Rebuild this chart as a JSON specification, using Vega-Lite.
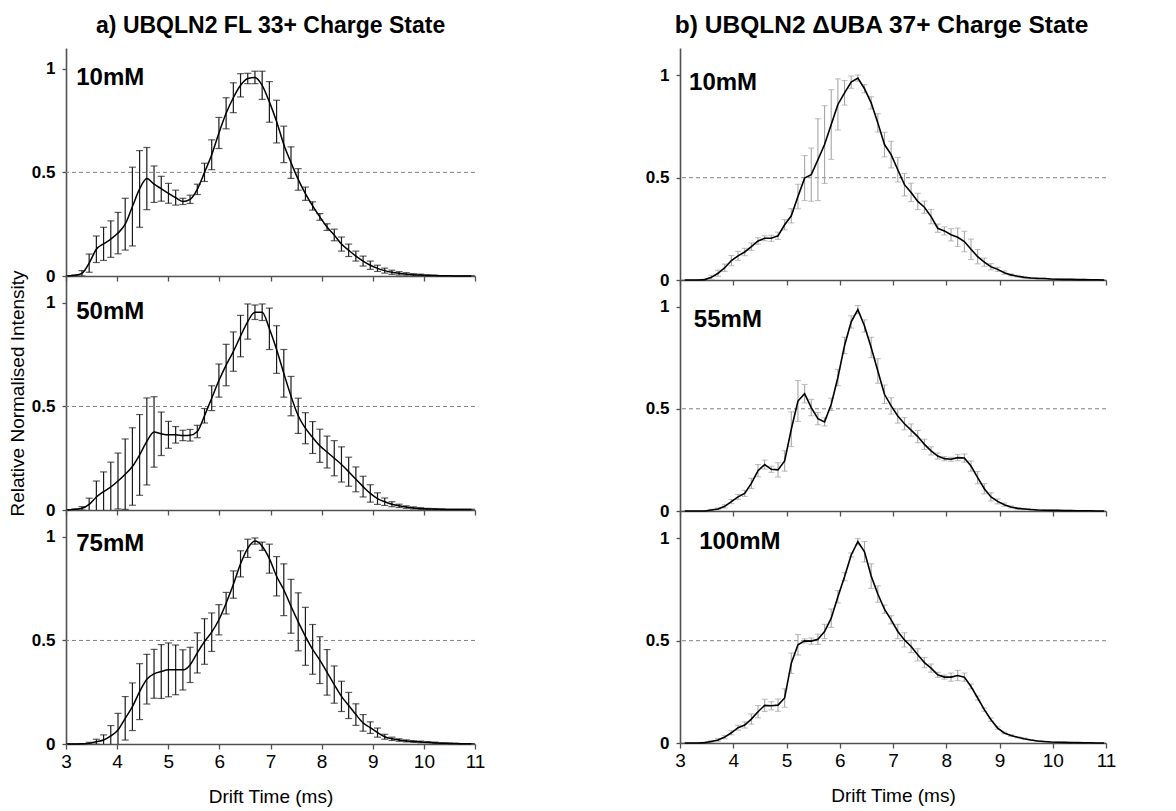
{
"$schema": "https://vega.github.io/schema/vega-lite/v6.json",
"background": "white",
"padding": {"left": 8, "top": 12, "right": 5, "bottom": 5},
"config": {
  "font": "Liberation Sans",
  "view": {"stroke": null},
  "axis": {"grid": false, "domainColor": "#505050", "tickColor": "#505050", "domainWidth": 1.6, "tickWidth": 1.3, "labelColor": "#000", "titleColor": "#000", "labelFont": "Liberation Sans", "titleFont": "Liberation Sans"},
  "title": {"font": "Liberation Sans", "color": "#000"}
},
"datasets": {
"fl": [
{"conc":"10mM","time":3.03,"rel":0,"err":0},{"conc":"10mM","time":3.171,"rel":0.003,"err":0.002},{"conc":"10mM","time":3.312,"rel":0.013,"err":0.013},{"conc":"10mM","time":3.453,"rel":0.062,"err":0.044},{"conc":"10mM","time":3.594,"rel":0.129,"err":0.064},{"conc":"10mM","time":3.735,"rel":0.155,"err":0.08},{"conc":"10mM","time":3.876,"rel":0.178,"err":0.088},{"conc":"10mM","time":4.017,"rel":0.207,"err":0.1},{"conc":"10mM","time":4.158,"rel":0.25,"err":0.125},{"conc":"10mM","time":4.299,"rel":0.335,"err":0.19},{"conc":"10mM","time":4.44,"rel":0.42,"err":0.185},{"conc":"10mM","time":4.581,"rel":0.47,"err":0.15},{"conc":"10mM","time":4.722,"rel":0.443,"err":0.088},{"conc":"10mM","time":4.863,"rel":0.421,"err":0.06},{"conc":"10mM","time":5.004,"rel":0.399,"err":0.048},{"conc":"10mM","time":5.145,"rel":0.378,"err":0.036},{"conc":"10mM","time":5.286,"rel":0.36,"err":0.015},{"conc":"10mM","time":5.427,"rel":0.37,"err":0.02},{"conc":"10mM","time":5.568,"rel":0.418,"err":0.025},{"conc":"10mM","time":5.709,"rel":0.5,"err":0.044},{"conc":"10mM","time":5.85,"rel":0.585,"err":0.072},{"conc":"10mM","time":5.991,"rel":0.69,"err":0.075},{"conc":"10mM","time":6.132,"rel":0.785,"err":0.075},{"conc":"10mM","time":6.273,"rel":0.86,"err":0.072},{"conc":"10mM","time":6.414,"rel":0.92,"err":0.056},{"conc":"10mM","time":6.555,"rel":0.953,"err":0.025},{"conc":"10mM","time":6.696,"rel":0.958,"err":0.03},{"conc":"10mM","time":6.837,"rel":0.92,"err":0.068},{"conc":"10mM","time":6.978,"rel":0.84,"err":0.098},{"conc":"10mM","time":7.119,"rel":0.745,"err":0.103},{"conc":"10mM","time":7.26,"rel":0.635,"err":0.088},{"conc":"10mM","time":7.401,"rel":0.547,"err":0.076},{"conc":"10mM","time":7.542,"rel":0.466,"err":0.052},{"conc":"10mM","time":7.683,"rel":0.397,"err":0.032},{"conc":"10mM","time":7.824,"rel":0.338,"err":0.02},{"conc":"10mM","time":7.965,"rel":0.285,"err":0.016},{"conc":"10mM","time":8.106,"rel":0.236,"err":0.016},{"conc":"10mM","time":8.247,"rel":0.198,"err":0.028},{"conc":"10mM","time":8.388,"rel":0.154,"err":0.034},{"conc":"10mM","time":8.529,"rel":0.124,"err":0.03},{"conc":"10mM","time":8.67,"rel":0.096,"err":0.024},{"conc":"10mM","time":8.811,"rel":0.072,"err":0.024},{"conc":"10mM","time":8.952,"rel":0.052,"err":0.02},{"conc":"10mM","time":9.093,"rel":0.037,"err":0.015},{"conc":"10mM","time":9.234,"rel":0.026,"err":0.012},{"conc":"10mM","time":9.375,"rel":0.018,"err":0.01},{"conc":"10mM","time":9.516,"rel":0.013,"err":0.008},{"conc":"10mM","time":9.657,"rel":0.01,"err":0.006},{"conc":"10mM","time":9.798,"rel":0.006,"err":0.005},{"conc":"10mM","time":9.939,"rel":0.005,"err":0.004},{"conc":"10mM","time":10.08,"rel":0.003,"err":0.003},{"conc":"10mM","time":10.221,"rel":0.002,"err":0.002},{"conc":"10mM","time":10.362,"rel":0.001,"err":0.001},{"conc":"10mM","time":10.503,"rel":0.001,"err":0.001},{"conc":"10mM","time":10.644,"rel":0,"err":0},{"conc":"10mM","time":10.785,"rel":0,"err":0},{"conc":"10mM","time":10.926,"rel":0,"err":0},
{"conc":"50mM","time":3.03,"rel":0,"err":0},{"conc":"50mM","time":3.171,"rel":0.003,"err":0.003},{"conc":"50mM","time":3.312,"rel":0.008,"err":0.008},{"conc":"50mM","time":3.453,"rel":0.027,"err":0.03},{"conc":"50mM","time":3.594,"rel":0.063,"err":0.077},{"conc":"50mM","time":3.735,"rel":0.089,"err":0.095},{"conc":"50mM","time":3.876,"rel":0.111,"err":0.12},{"conc":"50mM","time":4.017,"rel":0.14,"err":0.135},{"conc":"50mM","time":4.158,"rel":0.173,"err":0.17},{"conc":"50mM","time":4.299,"rel":0.21,"err":0.187},{"conc":"50mM","time":4.44,"rel":0.266,"err":0.195},{"conc":"50mM","time":4.581,"rel":0.331,"err":0.21},{"conc":"50mM","time":4.722,"rel":0.377,"err":0.17},{"conc":"50mM","time":4.863,"rel":0.368,"err":0.105},{"conc":"50mM","time":5.004,"rel":0.363,"err":0.065},{"conc":"50mM","time":5.145,"rel":0.363,"err":0.04},{"conc":"50mM","time":5.286,"rel":0.36,"err":0.025},{"conc":"50mM","time":5.427,"rel":0.361,"err":0.028},{"conc":"50mM","time":5.568,"rel":0.379,"err":0.03},{"conc":"50mM","time":5.709,"rel":0.455,"err":0.035},{"conc":"50mM","time":5.85,"rel":0.54,"err":0.06},{"conc":"50mM","time":5.991,"rel":0.625,"err":0.08},{"conc":"50mM","time":6.132,"rel":0.7,"err":0.1},{"conc":"50mM","time":6.273,"rel":0.765,"err":0.095},{"conc":"50mM","time":6.414,"rel":0.84,"err":0.1},{"conc":"50mM","time":6.555,"rel":0.91,"err":0.085},{"conc":"50mM","time":6.696,"rel":0.955,"err":0.035},{"conc":"50mM","time":6.837,"rel":0.955,"err":0.04},{"conc":"50mM","time":6.978,"rel":0.875,"err":0.1},{"conc":"50mM","time":7.119,"rel":0.775,"err":0.115},{"conc":"50mM","time":7.26,"rel":0.66,"err":0.115},{"conc":"50mM","time":7.401,"rel":0.55,"err":0.095},{"conc":"50mM","time":7.542,"rel":0.455,"err":0.085},{"conc":"50mM","time":7.683,"rel":0.395,"err":0.075},{"conc":"50mM","time":7.824,"rel":0.35,"err":0.077},{"conc":"50mM","time":7.965,"rel":0.31,"err":0.08},{"conc":"50mM","time":8.106,"rel":0.28,"err":0.077},{"conc":"50mM","time":8.247,"rel":0.25,"err":0.085},{"conc":"50mM","time":8.388,"rel":0.22,"err":0.085},{"conc":"50mM","time":8.529,"rel":0.185,"err":0.07},{"conc":"50mM","time":8.67,"rel":0.148,"err":0.06},{"conc":"50mM","time":8.811,"rel":0.113,"err":0.05},{"conc":"50mM","time":8.952,"rel":0.08,"err":0.042},{"conc":"50mM","time":9.093,"rel":0.055,"err":0.028},{"conc":"50mM","time":9.234,"rel":0.04,"err":0.018},{"conc":"50mM","time":9.375,"rel":0.028,"err":0.012},{"conc":"50mM","time":9.516,"rel":0.02,"err":0.008},{"conc":"50mM","time":9.657,"rel":0.014,"err":0.006},{"conc":"50mM","time":9.798,"rel":0.01,"err":0.005},{"conc":"50mM","time":9.939,"rel":0.007,"err":0.004},{"conc":"50mM","time":10.08,"rel":0.005,"err":0.003},{"conc":"50mM","time":10.221,"rel":0.004,"err":0.003},{"conc":"50mM","time":10.362,"rel":0.003,"err":0.003},{"conc":"50mM","time":10.503,"rel":0.002,"err":0.002},{"conc":"50mM","time":10.644,"rel":0.002,"err":0.002},{"conc":"50mM","time":10.785,"rel":0.002,"err":0.002},{"conc":"50mM","time":10.926,"rel":0.002,"err":0.002},
{"conc":"75mM","time":3.03,"rel":0,"err":0},{"conc":"75mM","time":3.171,"rel":0,"err":0},{"conc":"75mM","time":3.312,"rel":0.001,"err":0.001},{"conc":"75mM","time":3.453,"rel":0.003,"err":0.005},{"conc":"75mM","time":3.594,"rel":0.011,"err":0.012},{"conc":"75mM","time":3.735,"rel":0.019,"err":0.025},{"conc":"75mM","time":3.876,"rel":0.039,"err":0.05},{"conc":"75mM","time":4.017,"rel":0.068,"err":0.08},{"conc":"75mM","time":4.158,"rel":0.124,"err":0.105},{"conc":"75mM","time":4.299,"rel":0.18,"err":0.115},{"conc":"75mM","time":4.44,"rel":0.253,"err":0.135},{"conc":"75mM","time":4.581,"rel":0.313,"err":0.12},{"conc":"75mM","time":4.722,"rel":0.339,"err":0.118},{"conc":"75mM","time":4.863,"rel":0.35,"err":0.13},{"conc":"75mM","time":5.004,"rel":0.358,"err":0.13},{"conc":"75mM","time":5.145,"rel":0.358,"err":0.12},{"conc":"75mM","time":5.286,"rel":0.358,"err":0.097},{"conc":"75mM","time":5.427,"rel":0.382,"err":0.085},{"conc":"75mM","time":5.568,"rel":0.44,"err":0.097},{"conc":"75mM","time":5.709,"rel":0.495,"err":0.11},{"conc":"75mM","time":5.85,"rel":0.54,"err":0.093},{"conc":"75mM","time":5.991,"rel":0.6,"err":0.073},{"conc":"75mM","time":6.132,"rel":0.68,"err":0.052},{"conc":"75mM","time":6.273,"rel":0.77,"err":0.066},{"conc":"75mM","time":6.414,"rel":0.87,"err":0.063},{"conc":"75mM","time":6.555,"rel":0.945,"err":0.044},{"conc":"75mM","time":6.696,"rel":0.98,"err":0.015},{"conc":"75mM","time":6.837,"rel":0.955,"err":0.02},{"conc":"75mM","time":6.978,"rel":0.895,"err":0.07},{"conc":"75mM","time":7.119,"rel":0.81,"err":0.095},{"conc":"75mM","time":7.26,"rel":0.745,"err":0.125},{"conc":"75mM","time":7.401,"rel":0.665,"err":0.13},{"conc":"75mM","time":7.542,"rel":0.59,"err":0.14},{"conc":"75mM","time":7.683,"rel":0.52,"err":0.14},{"conc":"75mM","time":7.824,"rel":0.457,"err":0.12},{"conc":"75mM","time":7.965,"rel":0.405,"err":0.113},{"conc":"75mM","time":8.106,"rel":0.346,"err":0.11},{"conc":"75mM","time":8.247,"rel":0.287,"err":0.09},{"conc":"75mM","time":8.388,"rel":0.23,"err":0.073},{"conc":"75mM","time":8.529,"rel":0.186,"err":0.063},{"conc":"75mM","time":8.67,"rel":0.142,"err":0.052},{"conc":"75mM","time":8.811,"rel":0.102,"err":0.04},{"conc":"75mM","time":8.952,"rel":0.079,"err":0.028},{"conc":"75mM","time":9.093,"rel":0.055,"err":0.022},{"conc":"75mM","time":9.234,"rel":0.035,"err":0.012},{"conc":"75mM","time":9.375,"rel":0.025,"err":0.008},{"conc":"75mM","time":9.516,"rel":0.019,"err":0.006},{"conc":"75mM","time":9.657,"rel":0.015,"err":0.005},{"conc":"75mM","time":9.798,"rel":0.012,"err":0.004},{"conc":"75mM","time":9.939,"rel":0.01,"err":0.004},{"conc":"75mM","time":10.08,"rel":0.008,"err":0.003},{"conc":"75mM","time":10.221,"rel":0.006,"err":0.003},{"conc":"75mM","time":10.362,"rel":0.004,"err":0.002},{"conc":"75mM","time":10.503,"rel":0.003,"err":0.002},{"conc":"75mM","time":10.644,"rel":0.002,"err":0.001},{"conc":"75mM","time":10.785,"rel":0.001,"err":0.001},{"conc":"75mM","time":10.926,"rel":0.001,"err":0.001}
],
"duba": [
{"conc":"10mM","time":3.09,"rel":0,"err":0},{"conc":"10mM","time":3.215,"rel":0,"err":0},{"conc":"10mM","time":3.34,"rel":0,"err":0},{"conc":"10mM","time":3.465,"rel":0.002,"err":0.002},{"conc":"10mM","time":3.59,"rel":0.013,"err":0.01},{"conc":"10mM","time":3.715,"rel":0.033,"err":0.015},{"conc":"10mM","time":3.84,"rel":0.06,"err":0.018},{"conc":"10mM","time":3.965,"rel":0.095,"err":0.025},{"conc":"10mM","time":4.09,"rel":0.118,"err":0.022},{"conc":"10mM","time":4.215,"rel":0.137,"err":0.018},{"conc":"10mM","time":4.34,"rel":0.163,"err":0.018},{"conc":"10mM","time":4.465,"rel":0.191,"err":0.016},{"conc":"10mM","time":4.59,"rel":0.204,"err":0.012},{"conc":"10mM","time":4.715,"rel":0.204,"err":0.015},{"conc":"10mM","time":4.84,"rel":0.216,"err":0.018},{"conc":"10mM","time":4.965,"rel":0.27,"err":0.025},{"conc":"10mM","time":5.09,"rel":0.314,"err":0.035},{"conc":"10mM","time":5.215,"rel":0.408,"err":0.06},{"conc":"10mM","time":5.34,"rel":0.498,"err":0.11},{"conc":"10mM","time":5.465,"rel":0.515,"err":0.13},{"conc":"10mM","time":5.59,"rel":0.588,"err":0.2},{"conc":"10mM","time":5.715,"rel":0.662,"err":0.19},{"conc":"10mM","time":5.84,"rel":0.76,"err":0.17},{"conc":"10mM","time":5.965,"rel":0.858,"err":0.125},{"conc":"10mM","time":6.09,"rel":0.915,"err":0.06},{"conc":"10mM","time":6.215,"rel":0.967,"err":0.03},{"conc":"10mM","time":6.34,"rel":0.987,"err":0.015},{"conc":"10mM","time":6.465,"rel":0.935,"err":0.02},{"conc":"10mM","time":6.59,"rel":0.866,"err":0.03},{"conc":"10mM","time":6.715,"rel":0.768,"err":0.045},{"conc":"10mM","time":6.84,"rel":0.662,"err":0.06},{"conc":"10mM","time":6.965,"rel":0.613,"err":0.065},{"conc":"10mM","time":7.09,"rel":0.539,"err":0.06},{"conc":"10mM","time":7.215,"rel":0.466,"err":0.055},{"conc":"10mM","time":7.34,"rel":0.428,"err":0.045},{"conc":"10mM","time":7.465,"rel":0.384,"err":0.04},{"conc":"10mM","time":7.59,"rel":0.356,"err":0.03},{"conc":"10mM","time":7.715,"rel":0.31,"err":0.035},{"conc":"10mM","time":7.84,"rel":0.253,"err":0.02},{"conc":"10mM","time":7.965,"rel":0.24,"err":0.02},{"conc":"10mM","time":8.09,"rel":0.221,"err":0.03},{"conc":"10mM","time":8.215,"rel":0.209,"err":0.045},{"conc":"10mM","time":8.34,"rel":0.188,"err":0.05},{"conc":"10mM","time":8.465,"rel":0.15,"err":0.05},{"conc":"10mM","time":8.59,"rel":0.114,"err":0.035},{"conc":"10mM","time":8.715,"rel":0.087,"err":0.02},{"conc":"10mM","time":8.84,"rel":0.065,"err":0.015},{"conc":"10mM","time":8.965,"rel":0.052,"err":0.01},{"conc":"10mM","time":9.09,"rel":0.036,"err":0.008},{"conc":"10mM","time":9.215,"rel":0.025,"err":0.005},{"conc":"10mM","time":9.34,"rel":0.018,"err":0.004},{"conc":"10mM","time":9.465,"rel":0.013,"err":0.003},{"conc":"10mM","time":9.59,"rel":0.01,"err":0.003},{"conc":"10mM","time":9.715,"rel":0.008,"err":0.002},{"conc":"10mM","time":9.84,"rel":0.007,"err":0.002},{"conc":"10mM","time":9.965,"rel":0.005,"err":0.002},{"conc":"10mM","time":10.09,"rel":0.004,"err":0.001},{"conc":"10mM","time":10.215,"rel":0.003,"err":0.001},{"conc":"10mM","time":10.34,"rel":0.003,"err":0.001},{"conc":"10mM","time":10.465,"rel":0.002,"err":0.001},{"conc":"10mM","time":10.59,"rel":0.002,"err":0.001},{"conc":"10mM","time":10.715,"rel":0.001,"err":0},{"conc":"10mM","time":10.84,"rel":0.001,"err":0},{"conc":"10mM","time":10.965,"rel":0,"err":0},
{"conc":"55mM","time":3.09,"rel":0,"err":0},{"conc":"55mM","time":3.215,"rel":0,"err":0},{"conc":"55mM","time":3.34,"rel":0,"err":0},{"conc":"55mM","time":3.465,"rel":0,"err":0},{"conc":"55mM","time":3.59,"rel":0.005,"err":0.003},{"conc":"55mM","time":3.715,"rel":0.01,"err":0.005},{"conc":"55mM","time":3.84,"rel":0.023,"err":0.008},{"conc":"55mM","time":3.965,"rel":0.046,"err":0.01},{"conc":"55mM","time":4.09,"rel":0.069,"err":0.012},{"conc":"55mM","time":4.215,"rel":0.086,"err":0.015},{"conc":"55mM","time":4.34,"rel":0.135,"err":0.025},{"conc":"55mM","time":4.465,"rel":0.197,"err":0.03},{"conc":"55mM","time":4.59,"rel":0.227,"err":0.022},{"conc":"55mM","time":4.715,"rel":0.204,"err":0.015},{"conc":"55mM","time":4.84,"rel":0.201,"err":0.035},{"conc":"55mM","time":4.965,"rel":0.245,"err":0.05},{"conc":"55mM","time":5.09,"rel":0.4,"err":0.085},{"conc":"55mM","time":5.215,"rel":0.538,"err":0.1},{"conc":"55mM","time":5.34,"rel":0.574,"err":0.045},{"conc":"55mM","time":5.465,"rel":0.506,"err":0.04},{"conc":"55mM","time":5.59,"rel":0.452,"err":0.03},{"conc":"55mM","time":5.715,"rel":0.436,"err":0.02},{"conc":"55mM","time":5.84,"rel":0.522,"err":0.03},{"conc":"55mM","time":5.965,"rel":0.653,"err":0.04},{"conc":"55mM","time":6.09,"rel":0.81,"err":0.04},{"conc":"55mM","time":6.215,"rel":0.925,"err":0.03},{"conc":"55mM","time":6.34,"rel":0.985,"err":0.02},{"conc":"55mM","time":6.465,"rel":0.905,"err":0.03},{"conc":"55mM","time":6.59,"rel":0.8,"err":0.05},{"conc":"55mM","time":6.715,"rel":0.685,"err":0.06},{"conc":"55mM","time":6.84,"rel":0.571,"err":0.045},{"conc":"55mM","time":6.965,"rel":0.514,"err":0.04},{"conc":"55mM","time":7.09,"rel":0.465,"err":0.035},{"conc":"55mM","time":7.215,"rel":0.427,"err":0.03},{"conc":"55mM","time":7.34,"rel":0.396,"err":0.03},{"conc":"55mM","time":7.465,"rel":0.364,"err":0.03},{"conc":"55mM","time":7.59,"rel":0.326,"err":0.025},{"conc":"55mM","time":7.715,"rel":0.294,"err":0.02},{"conc":"55mM","time":7.84,"rel":0.269,"err":0.015},{"conc":"55mM","time":7.965,"rel":0.256,"err":0.01},{"conc":"55mM","time":8.09,"rel":0.253,"err":0.01},{"conc":"55mM","time":8.215,"rel":0.261,"err":0.015},{"conc":"55mM","time":8.34,"rel":0.259,"err":0.02},{"conc":"55mM","time":8.465,"rel":0.22,"err":0.025},{"conc":"55mM","time":8.59,"rel":0.163,"err":0.03},{"conc":"55mM","time":8.715,"rel":0.109,"err":0.025},{"conc":"55mM","time":8.84,"rel":0.069,"err":0.02},{"conc":"55mM","time":8.965,"rel":0.047,"err":0.012},{"conc":"55mM","time":9.09,"rel":0.031,"err":0.008},{"conc":"55mM","time":9.215,"rel":0.02,"err":0.005},{"conc":"55mM","time":9.34,"rel":0.013,"err":0.004},{"conc":"55mM","time":9.465,"rel":0.01,"err":0.003},{"conc":"55mM","time":9.59,"rel":0.007,"err":0.003},{"conc":"55mM","time":9.715,"rel":0.005,"err":0.002},{"conc":"55mM","time":9.84,"rel":0.004,"err":0.002},{"conc":"55mM","time":9.965,"rel":0.003,"err":0.002},{"conc":"55mM","time":10.09,"rel":0.003,"err":0.001},{"conc":"55mM","time":10.215,"rel":0.002,"err":0.001},{"conc":"55mM","time":10.34,"rel":0.002,"err":0.001},{"conc":"55mM","time":10.465,"rel":0.001,"err":0.001},{"conc":"55mM","time":10.59,"rel":0.001,"err":0.001},{"conc":"55mM","time":10.715,"rel":0.001,"err":0},{"conc":"55mM","time":10.84,"rel":0,"err":0},{"conc":"55mM","time":10.965,"rel":0,"err":0},
{"conc":"100mM","time":3.09,"rel":0,"err":0},{"conc":"100mM","time":3.215,"rel":0,"err":0},{"conc":"100mM","time":3.34,"rel":0,"err":0},{"conc":"100mM","time":3.465,"rel":0.002,"err":0.002},{"conc":"100mM","time":3.59,"rel":0.007,"err":0.005},{"conc":"100mM","time":3.715,"rel":0.015,"err":0.007},{"conc":"100mM","time":3.84,"rel":0.029,"err":0.008},{"conc":"100mM","time":3.965,"rel":0.05,"err":0.01},{"conc":"100mM","time":4.09,"rel":0.075,"err":0.012},{"conc":"100mM","time":4.215,"rel":0.088,"err":0.015},{"conc":"100mM","time":4.34,"rel":0.117,"err":0.025},{"conc":"100mM","time":4.465,"rel":0.153,"err":0.03},{"conc":"100mM","time":4.59,"rel":0.184,"err":0.03},{"conc":"100mM","time":4.715,"rel":0.182,"err":0.02},{"conc":"100mM","time":4.84,"rel":0.185,"err":0.03},{"conc":"100mM","time":4.965,"rel":0.22,"err":0.045},{"conc":"100mM","time":5.09,"rel":0.39,"err":0.05},{"conc":"100mM","time":5.215,"rel":0.48,"err":0.05},{"conc":"100mM","time":5.34,"rel":0.499,"err":0.01},{"conc":"100mM","time":5.465,"rel":0.498,"err":0.015},{"conc":"100mM","time":5.59,"rel":0.507,"err":0.025},{"conc":"100mM","time":5.715,"rel":0.545,"err":0.035},{"conc":"100mM","time":5.84,"rel":0.61,"err":0.045},{"conc":"100mM","time":5.965,"rel":0.715,"err":0.03},{"conc":"100mM","time":6.09,"rel":0.813,"err":0.02},{"conc":"100mM","time":6.215,"rel":0.919,"err":0.01},{"conc":"100mM","time":6.34,"rel":0.984,"err":0.015},{"conc":"100mM","time":6.465,"rel":0.935,"err":0.05},{"conc":"100mM","time":6.59,"rel":0.816,"err":0.06},{"conc":"100mM","time":6.715,"rel":0.728,"err":0.04},{"conc":"100mM","time":6.84,"rel":0.654,"err":0.02},{"conc":"100mM","time":6.965,"rel":0.602,"err":0.02},{"conc":"100mM","time":7.09,"rel":0.545,"err":0.035},{"conc":"100mM","time":7.215,"rel":0.504,"err":0.035},{"conc":"100mM","time":7.34,"rel":0.472,"err":0.03},{"conc":"100mM","time":7.465,"rel":0.431,"err":0.03},{"conc":"100mM","time":7.59,"rel":0.393,"err":0.025},{"conc":"100mM","time":7.715,"rel":0.366,"err":0.02},{"conc":"100mM","time":7.84,"rel":0.333,"err":0.012},{"conc":"100mM","time":7.965,"rel":0.322,"err":0.01},{"conc":"100mM","time":8.09,"rel":0.322,"err":0.02},{"conc":"100mM","time":8.215,"rel":0.33,"err":0.025},{"conc":"100mM","time":8.34,"rel":0.322,"err":0.02},{"conc":"100mM","time":8.465,"rel":0.276,"err":0.012},{"conc":"100mM","time":8.59,"rel":0.22,"err":0.01},{"conc":"100mM","time":8.715,"rel":0.163,"err":0.008},{"conc":"100mM","time":8.84,"rel":0.114,"err":0.008},{"conc":"100mM","time":8.965,"rel":0.073,"err":0.006},{"conc":"100mM","time":9.09,"rel":0.049,"err":0.004},{"conc":"100mM","time":9.215,"rel":0.037,"err":0.004},{"conc":"100mM","time":9.34,"rel":0.028,"err":0.003},{"conc":"100mM","time":9.465,"rel":0.021,"err":0.003},{"conc":"100mM","time":9.59,"rel":0.015,"err":0.002},{"conc":"100mM","time":9.715,"rel":0.01,"err":0.002},{"conc":"100mM","time":9.84,"rel":0.007,"err":0.002},{"conc":"100mM","time":9.965,"rel":0.005,"err":0.001},{"conc":"100mM","time":10.09,"rel":0.004,"err":0.001},{"conc":"100mM","time":10.215,"rel":0.003,"err":0.001},{"conc":"100mM","time":10.34,"rel":0.002,"err":0.001},{"conc":"100mM","time":10.465,"rel":0.002,"err":0},{"conc":"100mM","time":10.59,"rel":0.001,"err":0},{"conc":"100mM","time":10.715,"rel":0.001,"err":0},{"conc":"100mM","time":10.84,"rel":0,"err":0},{"conc":"100mM","time":10.965,"rel":0,"err":0}
]
},
"spacing": 160,
"resolve": {"scale": {"x": "independent", "y": "independent"}},
"hconcat": [
{
"title": {"text": "a) UBQLN2 FL 33+ Charge State", "fontSize": 23, "fontWeight": "bold", "anchor": "middle", "offset": 10, "dx": 24},
"spacing": 0,
"bounds": "flush",
"resolve": {"scale": {"x": "independent", "y": "independent"}},
"vconcat": [
{"width": 409, "height": 228, "layer": [
 {"data": {"values": [{}]}, "mark": {"type": "rule", "color": "#808080", "strokeDash": [4, 3], "strokeWidth": 1}, "encoding": {"y": {"datum": 0.5, "type": "quantitative", "scale": {"domain": [0, 1.1], "nice": false, "zero": false}}}},
 {"data": {"name": "fl"}, "transform": [{"filter": "datum.conc === '10mM'"}], "mark": {"type": "errorbar", "ticks": {"size": 7}, "color": "#1a1a1a", "thickness": 1.2, "clip": true}, "encoding": {"x": {"field": "time", "type": "quantitative", "scale": {"domain": [3, 11], "nice": false, "zero": false}}, "y": {"field": "rel", "type": "quantitative", "scale": {"domain": [0, 1.1], "nice": false, "zero": false}}, "yError": {"field": "err"}}},
 {"data": {"name": "fl"}, "transform": [{"filter": "datum.conc === '10mM'"}], "mark": {"type": "line", "color": "#000", "strokeWidth": 1.5, "interpolate": "monotone"}, "encoding": {"x": {"field": "time", "type": "quantitative", "scale": {"domain": [3, 11], "nice": false, "zero": false}, "axis": {"values": [3,3.5,4,4.5,5,5.5,6,6.5,7,7.5,8,8.5,9,9.5,10,10.5,11], "labels": false, "tickSize": 5, "title": null}}, "y": {"field": "rel", "type": "quantitative", "scale": {"domain": [0, 1.1], "nice": false, "zero": false}, "axis": {"values": [0, 0.5, 1], "format": "~g", "labelFontSize": 17, "labelFontWeight": "bold", "tickSize": 4, "labelPadding": 7, "title": null}}}},
 {"data": {"values": [{}]}, "mark": {"type": "text", "text": "10mM", "fontSize": 24, "fontWeight": "bold", "align": "left", "baseline": "alphabetic"}, "encoding": {"x": {"datum": 3.2, "type": "quantitative", "scale": {"domain": [3, 11], "nice": false, "zero": false}}, "y": {"datum": 0.92, "type": "quantitative", "scale": {"domain": [0, 1.1], "nice": false, "zero": false}}}}
]},
{"width": 409, "height": 234, "layer": [
 {"data": {"values": [{}]}, "mark": {"type": "rule", "color": "#808080", "strokeDash": [4, 3], "strokeWidth": 1}, "encoding": {"y": {"datum": 0.5, "type": "quantitative", "scale": {"domain": [0, 1.13], "nice": false, "zero": false}}}},
 {"data": {"name": "fl"}, "transform": [{"filter": "datum.conc === '50mM'"}], "mark": {"type": "errorbar", "ticks": {"size": 7}, "color": "#1a1a1a", "thickness": 1.2, "clip": true}, "encoding": {"x": {"field": "time", "type": "quantitative", "scale": {"domain": [3, 11], "nice": false, "zero": false}}, "y": {"field": "rel", "type": "quantitative", "title": "Relative Normalised Intensity", "scale": {"domain": [0, 1.13], "nice": false, "zero": false}}, "yError": {"field": "err"}}},
 {"data": {"name": "fl"}, "transform": [{"filter": "datum.conc === '50mM'"}], "mark": {"type": "line", "color": "#000", "strokeWidth": 1.5, "interpolate": "monotone"}, "encoding": {"x": {"field": "time", "type": "quantitative", "scale": {"domain": [3, 11], "nice": false, "zero": false}, "axis": {"values": [3,3.5,4,4.5,5,5.5,6,6.5,7,7.5,8,8.5,9,9.5,10,10.5,11], "labels": false, "tickSize": 5, "title": null}}, "y": {"field": "rel", "type": "quantitative", "title": "Relative Normalised Intensity", "scale": {"domain": [0, 1.13], "nice": false, "zero": false}, "axis": {"values": [0, 0.5, 1], "format": "~g", "labelFontSize": 17, "labelFontWeight": "bold", "tickSize": 4, "labelPadding": 7, "titleFontSize": 19, "titleFontWeight": "normal", "titlePadding": 4}}}},
 {"data": {"values": [{}]}, "mark": {"type": "text", "text": "50mM", "fontSize": 24, "fontWeight": "bold", "align": "left", "baseline": "alphabetic"}, "encoding": {"x": {"datum": 3.2, "type": "quantitative", "scale": {"domain": [3, 11], "nice": false, "zero": false}}, "y": {"datum": 0.92, "type": "quantitative", "scale": {"domain": [0, 1.13], "nice": false, "zero": false}}}}
]},
{"width": 409, "height": 234, "layer": [
 {"data": {"values": [{}]}, "mark": {"type": "rule", "color": "#808080", "strokeDash": [4, 3], "strokeWidth": 1}, "encoding": {"y": {"datum": 0.5, "type": "quantitative", "scale": {"domain": [0, 1.13], "nice": false, "zero": false}}}},
 {"data": {"name": "fl"}, "transform": [{"filter": "datum.conc === '75mM'"}], "mark": {"type": "errorbar", "ticks": {"size": 7}, "color": "#1a1a1a", "thickness": 1.2, "clip": true}, "encoding": {"x": {"field": "time", "type": "quantitative", "scale": {"domain": [3, 11], "nice": false, "zero": false}}, "y": {"field": "rel", "type": "quantitative", "scale": {"domain": [0, 1.13], "nice": false, "zero": false}}, "yError": {"field": "err"}}},
 {"data": {"name": "fl"}, "transform": [{"filter": "datum.conc === '75mM'"}], "mark": {"type": "line", "color": "#000", "strokeWidth": 1.5, "interpolate": "monotone"}, "encoding": {"x": {"field": "time", "type": "quantitative", "scale": {"domain": [3, 11], "nice": false, "zero": false}, "axis": {"values": [3,3.5,4,4.5,5,5.5,6,6.5,7,7.5,8,8.5,9,9.5,10,10.5,11], "labelExpr": "datum.value % 1 === 0 ? datum.label : ''", "format": "~g", "labelFontSize": 19, "labelFlush": false, "labelOverlap": false, "labelPadding": 3, "tickSize": 5, "title": "Drift Time (ms)", "titleFontSize": 19, "titleFontWeight": "normal", "titlePadding": 16}}, "y": {"field": "rel", "type": "quantitative", "scale": {"domain": [0, 1.13], "nice": false, "zero": false}, "axis": {"values": [0, 0.5, 1], "format": "~g", "labelFontSize": 17, "labelFontWeight": "bold", "tickSize": 4, "labelPadding": 7, "title": null}}}},
 {"data": {"values": [{}]}, "mark": {"type": "text", "text": "75mM", "fontSize": 24, "fontWeight": "bold", "align": "left", "baseline": "alphabetic"}, "encoding": {"x": {"datum": 3.2, "type": "quantitative", "scale": {"domain": [3, 11], "nice": false, "zero": false}}, "y": {"datum": 0.93, "type": "quantitative", "scale": {"domain": [0, 1.13], "nice": false, "zero": false}}}}
]}
]
},
{
"title": {"text": "b) UBQLN2 ΔUBA 37+ Charge State", "fontSize": 24.5, "fontWeight": "bold", "anchor": "middle", "offset": 10, "dx": 1},
"spacing": 0,
"bounds": "flush",
"resolve": {"scale": {"x": "independent", "y": "independent"}},
"vconcat": [
{"width": 426, "height": 232, "layer": [
 {"data": {"values": [{}]}, "mark": {"type": "rule", "color": "#808080", "strokeDash": [4, 3], "strokeWidth": 1}, "encoding": {"y": {"datum": 0.5, "type": "quantitative", "scale": {"domain": [0, 1.134], "nice": false, "zero": false}}}},
 {"data": {"name": "duba"}, "transform": [{"filter": "datum.conc === '10mM'"}], "mark": {"type": "errorbar", "ticks": {"size": 6}, "color": "#a6a6a6", "thickness": 1.1, "clip": true}, "encoding": {"x": {"field": "time", "type": "quantitative", "scale": {"domain": [3, 11], "nice": false, "zero": false}}, "y": {"field": "rel", "type": "quantitative", "scale": {"domain": [0, 1.134], "nice": false, "zero": false}}, "yError": {"field": "err"}}},
 {"data": {"name": "duba"}, "transform": [{"filter": "datum.conc === '10mM'"}], "mark": {"type": "line", "color": "#000", "strokeWidth": 1.6, "interpolate": "linear"}, "encoding": {"x": {"field": "time", "type": "quantitative", "scale": {"domain": [3, 11], "nice": false, "zero": false}, "axis": {"values": [3,3.5,4,4.5,5,5.5,6,6.5,7,7.5,8,8.5,9,9.5,10,10.5,11], "labels": false, "tickSize": 5, "title": null}}, "y": {"field": "rel", "type": "quantitative", "scale": {"domain": [0, 1.134], "nice": false, "zero": false}, "axis": {"values": [0, 0.5, 1], "format": "~g", "labelFontSize": 17, "labelFontWeight": "bold", "tickSize": 4, "labelPadding": 7, "title": null}}}},
 {"data": {"values": [{}]}, "mark": {"type": "text", "text": "10mM", "fontSize": 24, "fontWeight": "bold", "align": "left", "baseline": "alphabetic"}, "encoding": {"x": {"datum": 3.17, "type": "quantitative", "scale": {"domain": [3, 11], "nice": false, "zero": false}}, "y": {"datum": 0.93, "type": "quantitative", "scale": {"domain": [0, 1.134], "nice": false, "zero": false}}}}
]},
{"width": 426, "height": 231, "layer": [
 {"data": {"values": [{}]}, "mark": {"type": "rule", "color": "#808080", "strokeDash": [4, 3], "strokeWidth": 1}, "encoding": {"y": {"datum": 0.5, "type": "quantitative", "scale": {"domain": [0, 1.13], "nice": false, "zero": false}}}},
 {"data": {"name": "duba"}, "transform": [{"filter": "datum.conc === '55mM'"}], "mark": {"type": "errorbar", "ticks": {"size": 6}, "color": "#a6a6a6", "thickness": 1.1, "clip": true}, "encoding": {"x": {"field": "time", "type": "quantitative", "scale": {"domain": [3, 11], "nice": false, "zero": false}}, "y": {"field": "rel", "type": "quantitative", "scale": {"domain": [0, 1.13], "nice": false, "zero": false}}, "yError": {"field": "err"}}},
 {"data": {"name": "duba"}, "transform": [{"filter": "datum.conc === '55mM'"}], "mark": {"type": "line", "color": "#000", "strokeWidth": 1.6, "interpolate": "linear"}, "encoding": {"x": {"field": "time", "type": "quantitative", "scale": {"domain": [3, 11], "nice": false, "zero": false}, "axis": {"values": [3,3.5,4,4.5,5,5.5,6,6.5,7,7.5,8,8.5,9,9.5,10,10.5,11], "labels": false, "tickSize": 5, "title": null}}, "y": {"field": "rel", "type": "quantitative", "scale": {"domain": [0, 1.13], "nice": false, "zero": false}, "axis": {"values": [0, 0.5, 1], "format": "~g", "labelFontSize": 17, "labelFontWeight": "bold", "tickSize": 4, "labelPadding": 7, "title": null}}}},
 {"data": {"values": [{}]}, "mark": {"type": "text", "text": "55mM", "fontSize": 24, "fontWeight": "bold", "align": "left", "baseline": "alphabetic"}, "encoding": {"x": {"datum": 3.26, "type": "quantitative", "scale": {"domain": [3, 11], "nice": false, "zero": false}}, "y": {"datum": 0.9, "type": "quantitative", "scale": {"domain": [0, 1.13], "nice": false, "zero": false}}}}
]},
{"width": 426, "height": 232, "layer": [
 {"data": {"values": [{}]}, "mark": {"type": "rule", "color": "#808080", "strokeDash": [4, 3], "strokeWidth": 1}, "encoding": {"y": {"datum": 0.5, "type": "quantitative", "scale": {"domain": [0, 1.134], "nice": false, "zero": false}}}},
 {"data": {"name": "duba"}, "transform": [{"filter": "datum.conc === '100mM'"}], "mark": {"type": "errorbar", "ticks": {"size": 6}, "color": "#a6a6a6", "thickness": 1.1, "clip": true}, "encoding": {"x": {"field": "time", "type": "quantitative", "scale": {"domain": [3, 11], "nice": false, "zero": false}}, "y": {"field": "rel", "type": "quantitative", "scale": {"domain": [0, 1.134], "nice": false, "zero": false}}, "yError": {"field": "err"}}},
 {"data": {"name": "duba"}, "transform": [{"filter": "datum.conc === '100mM'"}], "mark": {"type": "line", "color": "#000", "strokeWidth": 1.6, "interpolate": "linear"}, "encoding": {"x": {"field": "time", "type": "quantitative", "scale": {"domain": [3, 11], "nice": false, "zero": false}, "axis": {"values": [3,3.5,4,4.5,5,5.5,6,6.5,7,7.5,8,8.5,9,9.5,10,10.5,11], "labelExpr": "datum.value % 1 === 0 ? datum.label : ''", "format": "~g", "labelFontSize": 19, "labelFlush": false, "labelOverlap": false, "labelPadding": 3, "tickSize": 5, "title": "Drift Time (ms)", "titleFontSize": 19, "titleFontWeight": "normal", "titlePadding": 16}}, "y": {"field": "rel", "type": "quantitative", "scale": {"domain": [0, 1.134], "nice": false, "zero": false}, "axis": {"values": [0, 0.5, 1], "format": "~g", "labelFontSize": 17, "labelFontWeight": "bold", "tickSize": 4, "labelPadding": 7, "title": null}}}},
 {"data": {"values": [{}]}, "mark": {"type": "text", "text": "100mM", "fontSize": 24, "fontWeight": "bold", "align": "left", "baseline": "alphabetic"}, "encoding": {"x": {"datum": 3.36, "type": "quantitative", "scale": {"domain": [3, 11], "nice": false, "zero": false}}, "y": {"datum": 0.95, "type": "quantitative", "scale": {"domain": [0, 1.134], "nice": false, "zero": false}}}}
]}
]
}
]
}
